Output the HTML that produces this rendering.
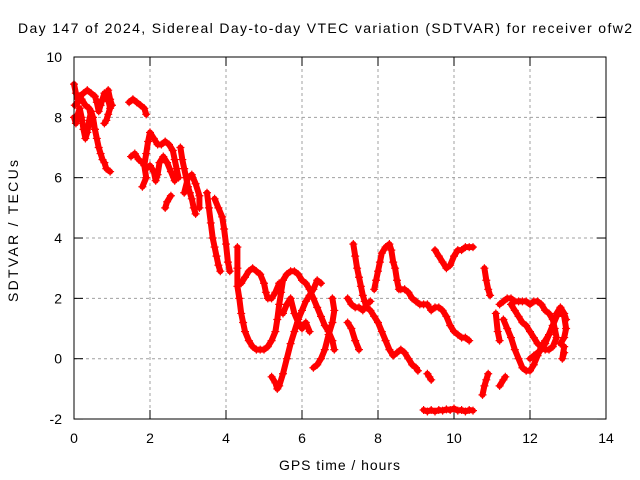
<!DOCTYPE html>
<html><head><meta charset="utf-8"><style>
body{margin:0;background:#fff;}
svg{display:block;font-family:"Liberation Sans",sans-serif;}
</style></head><body>
<svg id="chart" width="640" height="480">
<text x="18" y="33" font-size="14" textLength="614" lengthAdjust="spacing">Day 147 of 2024, Sidereal Day-to-day VTEC variation (SDTVAR) for receiver ofw2</text>
<text x="279" y="470" font-size="14" textLength="121" lengthAdjust="spacing">GPS time / hours</text>
<text x="18" y="302" font-size="14" textLength="142" lengthAdjust="spacing" transform="rotate(-90 18 302)">SDTVAR / TECUs</text>
<g id="grid"></g><g id="ticks"></g><g id="marks"></g>
<rect x="74" y="57" width="532" height="362" fill="none" stroke="#000" stroke-width="1"/>
</svg>
<script>
const xTicks=[0,2,4,6,8,10,12,14];
const yTicks=[-2,0,2,4,6,8,10];
const s1=[[0,9.1],[0.05,8.8],[0.1,8.6],[0.15,8.7],[0.25,8.8],[0.35,8.9],[0.45,8.8],[0.55,8.7],[0.6,8.5],[0.65,8.2],[0.7,8.4],[0.75,8.6],[0.8,8.8],[0.85,8.6],[0.9,8.9],[0.95,8.6],[1.0,8.4]];
const s2=[[0,8.0],[0.05,7.8],[0.1,8.1],[0.15,8.3],[0.2,8.0],[0.25,7.6],[0.3,7.3],[0.35,7.5],[0.4,7.9],[0.45,8.2],[0.5,8.0],[0.55,7.6],[0.6,7.3],[0.65,7.0],[0.7,6.8],[0.75,6.6],[0.8,6.5],[0.85,6.3],[0.95,6.2]];
const s3=[[0.02,8.4],[0.1,8.5],[0.2,8.6],[0.3,8.4],[0.4,8.3],[0.45,8.0],[0.5,7.8],[0.55,7.6]];
const s4=[[0.8,7.8],[0.85,7.9],[0.9,8.1],[0.95,8.3],[0.9,8.6]];
const s5=[[1.45,8.5],[1.55,8.6],[1.65,8.5],[1.75,8.4],[1.85,8.3],[1.9,8.1]];
const s6=[[1.5,6.7],[1.6,6.8],[1.7,6.6],[1.8,6.5],[1.9,6.3],[2.0,6.4],[2.1,6.2],[2.15,5.9],[2.2,6.1],[2.25,6.5],[2.35,6.7],[2.45,6.5],[2.55,6.2],[2.65,5.9]];
const s7=[[1.8,5.7],[1.9,6.0],[1.85,6.4],[1.9,6.8],[1.95,7.2],[2.0,7.5],[2.1,7.3],[2.2,7.1],[2.3,7.1],[2.4,7.2],[2.5,7.1],[2.6,6.9],[2.65,6.6],[2.7,6.3],[2.75,6.0]];
const s8=[[2.4,5.0],[2.45,5.2],[2.55,5.4]];
const s9=[[2.8,7.0],[2.85,6.6],[2.9,6.3],[2.95,6.0],[3.0,5.7],[3.05,5.5],[3.1,5.3],[3.15,5.0],[3.2,4.8]];
const s10=[[2.9,5.5],[3.0,6.0],[3.1,6.1],[3.2,5.8],[3.3,5.4],[3.3,5.0]];
const s11=[[3.5,5.5],[3.55,5.0],[3.6,4.5],[3.65,4.0],[3.7,3.7],[3.75,3.4],[3.8,3.1],[3.85,2.9]];
const s12=[[3.7,5.3],[3.8,5.0],[3.9,4.7],[3.95,4.3],[4.0,3.8],[4.05,3.2],[4.1,2.9]];
const s13=[[4.3,3.7],[4.3,3.0],[4.3,2.4],[4.35,2.0],[4.4,1.5],[4.45,1.2],[4.5,0.9],[4.6,0.6],[4.7,0.4],[4.8,0.3],[4.9,0.3],[5.0,0.3],[5.1,0.4],[5.2,0.6],[5.3,0.9],[5.35,1.3],[5.4,1.8],[5.45,2.2],[5.5,2.6],[5.6,2.8],[5.7,2.9],[5.8,2.9],[5.9,2.8],[6.0,2.6],[6.1,2.5],[6.2,2.3],[6.3,2.0],[6.4,1.7],[6.5,1.4],[6.6,1.1],[6.7,0.9],[6.8,0.6],[6.85,0.3]];
const s14=[[4.4,2.5],[4.5,2.7],[4.6,2.9],[4.7,3.0],[4.8,2.9],[4.9,2.8],[5.0,2.5],[5.05,2.2],[5.1,2.0],[5.2,2.0],[5.3,2.2],[5.4,2.5]];
const s15=[[5.2,-0.6],[5.3,-0.8],[5.35,-1.0],[5.4,-0.9],[5.5,-0.5],[5.6,0.0],[5.7,0.5],[5.8,0.9],[5.9,1.3],[6.0,1.6],[6.1,1.9],[6.2,2.1],[6.3,2.3],[6.4,2.6],[6.5,2.5]];
const s16=[[5.5,1.5],[5.6,1.8],[5.7,2.0],[5.8,1.5],[5.9,1.2],[6.0,1.0],[6.1,1.2],[6.2,0.9]];
const s17=[[6.3,-0.3],[6.4,-0.2],[6.5,0.0],[6.6,0.3],[6.7,0.8],[6.8,1.2],[6.85,1.6],[6.8,2.0]];
const s18=[[7.35,3.8],[7.4,3.4],[7.45,3.0],[7.5,2.7],[7.55,2.4],[7.6,2.1],[7.65,1.9],[7.7,1.7],[7.8,1.6],[7.9,1.4],[8.0,1.2],[8.1,0.9],[8.2,0.6],[8.3,0.3],[8.4,0.1],[8.5,0.2],[8.6,0.3],[8.7,0.2],[8.8,0.0],[8.9,-0.2],[9.0,-0.3],[9.05,-0.4]];
const s19=[[7.2,2.0],[7.3,1.8],[7.4,1.7],[7.5,1.7],[7.6,1.6],[7.7,1.8],[7.8,1.9]];
const s20=[[7.2,1.2],[7.3,1.0],[7.4,0.6],[7.5,0.3]];
const s21=[[7.9,2.3],[7.95,2.6],[8.0,2.9],[8.05,3.2],[8.1,3.5],[8.2,3.7],[8.3,3.8],[8.35,3.6],[8.4,3.2],[8.45,3.0],[8.5,2.6],[8.55,2.3],[8.6,2.3],[8.7,2.3],[8.8,2.2],[8.9,2.0],[9.0,1.9],[9.1,1.8],[9.2,1.8],[9.3,1.8],[9.4,1.6],[9.5,1.7],[9.6,1.7],[9.7,1.6],[9.8,1.4],[9.9,1.1],[10.0,0.9],[10.1,0.8],[10.2,0.7],[10.3,0.7],[10.4,0.6]];
const s22=[[9.5,3.6],[9.6,3.4],[9.7,3.2],[9.8,3.0],[9.9,3.1],[10.0,3.4],[10.1,3.6],[10.2,3.6],[10.3,3.7],[10.4,3.7],[10.5,3.7]];
const s23=[[9.2,-1.7],[9.3,-1.75],[9.4,-1.7],[9.5,-1.75],[9.6,-1.7],[9.7,-1.72],[9.8,-1.68],[9.9,-1.7],[10.0,-1.65],[10.1,-1.72],[10.2,-1.7],[10.3,-1.75],[10.4,-1.7],[10.5,-1.72]];
const s24=[[9.3,-0.5],[9.35,-0.6],[9.4,-0.7]];
const s25=[[10.8,3.0],[10.85,2.6],[10.9,2.3],[10.95,2.1]];
const s26=[[10.75,-1.2],[10.8,-0.9],[10.85,-0.7],[10.9,-0.5]];
const s27=[[11.2,-0.9],[11.3,-0.7],[11.35,-0.6]];
const s28=[[11.3,1.3],[11.4,1.0],[11.5,0.7],[11.6,0.3],[11.7,0.0],[11.8,-0.3],[11.9,-0.4],[12.0,-0.4],[12.1,-0.2],[12.2,0.1],[12.3,0.4],[12.4,0.6],[12.5,0.8],[12.6,1.1],[12.7,1.4],[12.8,1.6],[12.9,1.4],[12.95,1.0],[12.9,0.7],[12.8,0.5]];
const s29=[[11.2,1.8],[11.3,1.9],[11.4,2.0],[11.5,2.0],[11.6,1.9],[11.7,1.9],[11.8,1.9],[11.9,1.9],[12.0,1.8],[12.1,1.9],[12.2,1.9],[12.3,1.8],[12.4,1.6],[12.5,1.5],[12.6,1.3],[12.65,1.0],[12.7,0.7],[12.6,0.4],[12.5,0.3],[12.4,0.3],[12.3,0.4],[12.2,0.5],[12.1,0.7],[12.0,0.9],[11.9,1.1],[11.8,1.2],[11.7,1.4],[11.6,1.6],[11.5,1.8]];
const s30=[[12.0,0.0],[12.1,0.1],[12.2,0.2],[12.3,0.3],[12.4,0.5],[12.5,0.8],[12.6,1.1],[12.7,1.5],[12.8,1.7],[12.9,1.5],[12.95,1.3]];
const s31=[[12.9,0.4],[12.85,0.0],[12.9,0.2]];
const s32=[[11.1,1.5],[11.15,0.9],[11.2,0.6]];
const series=[s1,s2,s3,s4,s5,s6,s7,s8,s9,s10,s11,s12,s13,s14,s15,s16,s17,s18,s19,s20,s21,s22,s23,s24,s25,s26,s27,s28,s29,s30,s31,s32];
const NS="http://www.w3.org/2000/svg";
const X=v=>74+v*38, Y=v=>358.7-v*30.17;
const grid=document.getElementById('grid'),ticks=document.getElementById('ticks'),marks=document.getElementById('marks');
function ln(p,x1,y1,x2,y2,st,dash){const l=document.createElementNS(NS,'line');l.setAttribute('x1',x1);l.setAttribute('y1',y1);l.setAttribute('x2',x2);l.setAttribute('y2',y2);l.setAttribute('stroke',st);if(dash)l.setAttribute('stroke-dasharray',dash);p.appendChild(l);return l;}
function tx(x,y,s,a){const t=document.createElementNS(NS,'text');t.setAttribute('x',x);t.setAttribute('y',y);t.setAttribute('font-size','14');t.setAttribute('text-anchor',a);t.textContent=s;ticks.appendChild(t);return t;}
xTicks.forEach(v=>{const x=X(v);
 if(v>0&&v<14){const g=ln(grid,x,57,x,419,'#a0a0a0','3,3');
 
 }
 ln(ticks,x,419,x,410,'#000');ln(ticks,x,57,x,66,'#000');
 const t=tx(x,443,String(v),'middle');
 
 });
yTicks.forEach(v=>{const y=Y(v);
 if(v>-2&&v<10){const g=ln(grid,74,y,606,y,'#a0a0a0','3,3');
 
 }
 ln(ticks,74,y,83,y,'#000');ln(ticks,606,y,597,y,'#000');
 const t=tx(62,y+5,String(v),'end');
 
 });
series.forEach(s=>{
 const pl=document.createElementNS(NS,'polyline');
 pl.setAttribute('points',s.map(p=>X(p[0])+','+Y(p[1])).join(' '));
 pl.setAttribute('fill','none');pl.setAttribute('stroke','#ff0000');pl.setAttribute('stroke-width','6');pl.setAttribute('stroke-linejoin','round');pl.setAttribute('stroke-linecap','round');
 
 
 marks.appendChild(pl);
 s.forEach(p=>{const x=X(p[0]),y=Y(p[1]);
 const m=document.createElementNS(NS,'path');
 m.setAttribute('d',`M${x-4} ${y}h8M${x} ${y-4}v8`);
 m.setAttribute('stroke','#ff0000');m.setAttribute('stroke-width','1.2');
 
 
 marks.appendChild(m);});
});
</script>
</body></html>
